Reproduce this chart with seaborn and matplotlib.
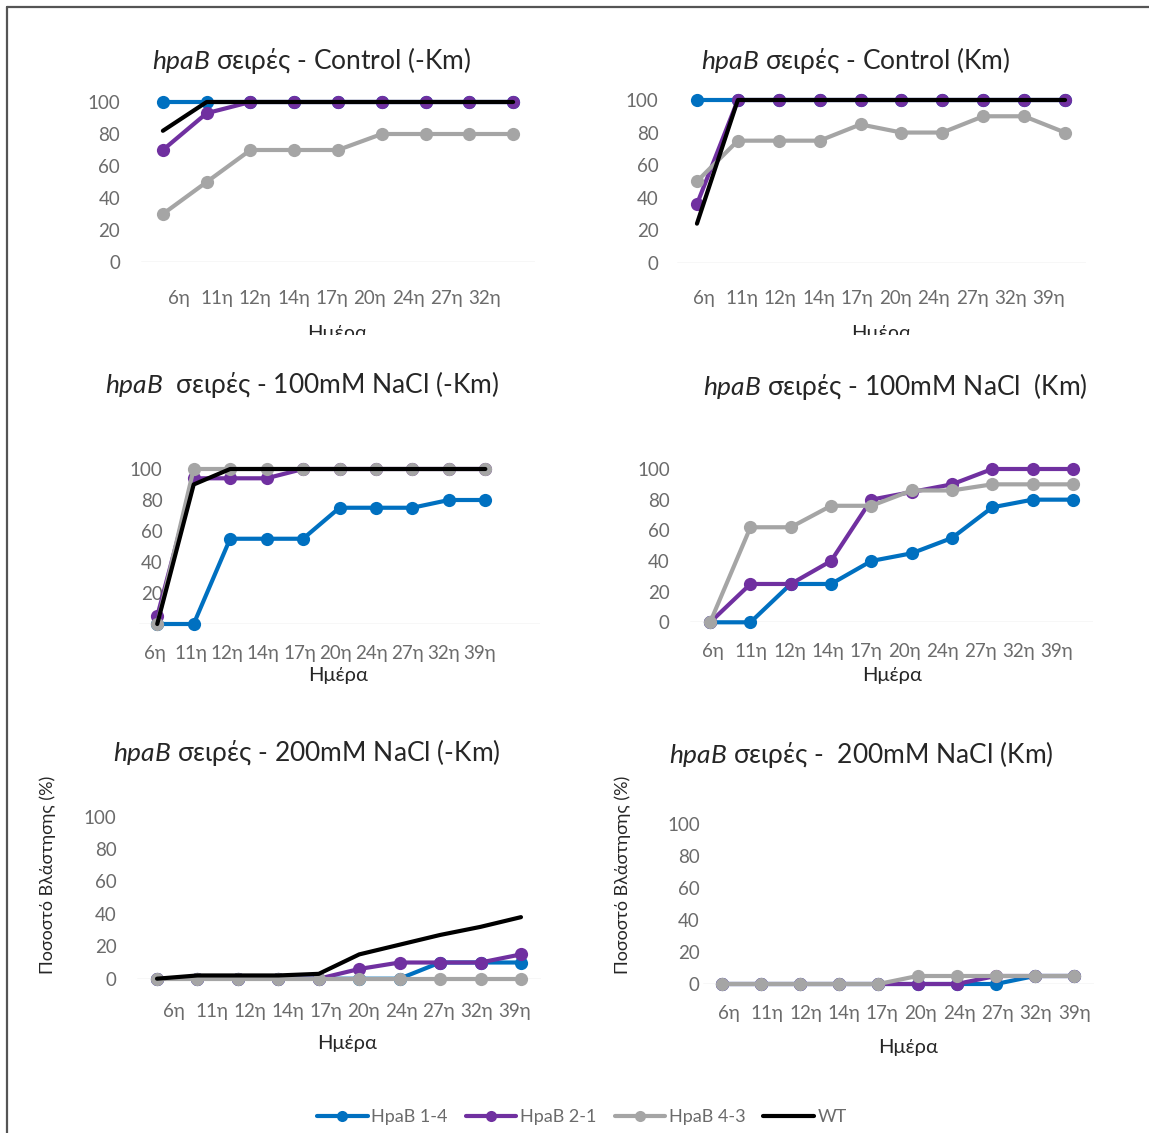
import numpy as np
import pandas as pd
import seaborn as sns
import matplotlib
matplotlib.use("Agg")
import matplotlib.pyplot as plt
from matplotlib.lines import Line2D
from matplotlib.transforms import Bbox, TransformedBbox

# ---------------- data ----------------
days9 = ["6η", "11η", "12η", "14η", "17η", "20η", "24η", "27η", "32η"]
days10 = ["6η", "11η", "12η", "14η", "17η", "20η", "24η", "27η", "32η", "39η"]
series_names = ["HpaB 1-4", "HpaB 2-1", "HpaB 4-3", "WT"]

ctrl_nokm_14 = [100, 100, 100, 100, 100, 100, 100, 100, 100]
ctrl_nokm_21 = [70, 93, 100, 100, 100, 100, 100, 100, 100]
ctrl_nokm_43 = [30, 50, 70, 70, 70, 80, 80, 80, 80]
ctrl_nokm_wt = [82, 100, 100, 100, 100, 100, 100, 100, 100]

ctrl_km_14 = [100, 100, 100, 100, 100, 100, 100, 100, 100, 100]
ctrl_km_21 = [36, 100, 100, 100, 100, 100, 100, 100, 100, 100]
ctrl_km_43 = [50, 75, 75, 75, 85, 80, 80, 90, 90, 80]
ctrl_km_wt = [24, 100, 100, 100, 100, 100, 100, 100, 100, 100]

nacl100_nokm_14 = [0, 0, 55, 55, 55, 75, 75, 75, 80, 80]
nacl100_nokm_21 = [5, 94, 94, 94, 100, 100, 100, 100, 100, 100]
nacl100_nokm_43 = [0, 100, 100, 100, 100, 100, 100, 100, 100, 100]
nacl100_nokm_wt = [0, 90, 100, 100, 100, 100, 100, 100, 100, 100]

nacl100_km_14 = [0, 0, 25, 25, 40, 45, 55, 75, 80, 80]
nacl100_km_21 = [0, 25, 25, 40, 80, 85, 90, 100, 100, 100]
nacl100_km_43 = [0, 62, 62, 76, 76, 86, 86, 90, 90, 90]
nacl100_km_wt = [np.nan] * 10

nacl200_nokm_14 = [0, 0, 0, 0, 0, 0, 0, 10, 10, 10]
nacl200_nokm_21 = [0, 0, 0, 0, 0, 6, 10, 10, 10, 15]
nacl200_nokm_43 = [0, 0, 0, 0, 0, 0, 0, 0, 0, 0]
nacl200_nokm_wt = [0, 2, 2, 2, 3, 15, 21, 27, 32, 38]

nacl200_km_14 = [0, 0, 0, 0, 0, 0, 0, 0, 5, 5]
nacl200_km_21 = [0, 0, 0, 0, 0, 0, 0, 5, 5, 5]
nacl200_km_43 = [0, 0, 0, 0, 0, 5, 5, 5, 5, 5]
nacl200_km_wt = [np.nan] * 10

titles = [
    r"$\it{hpaB}$ σειρές - Control (-Km)",
    r"$\it{hpaB}$ σειρές - Control (Km)",
    r"$\it{hpaB}$  σειρές - 100mM NaCl (-Km)",
    r"$\it{hpaB}$ σειρές - 100mM NaCl  (Km)",
    r"$\it{hpaB}$ σειρές - 200mM NaCl (-Km)",
    r"$\it{hpaB}$ σειρές -  200mM NaCl (Km)",
]
xlabel_text = "Ημέρα"
ylabel_text = "Ποσοστό Βλάστησης (%)"

# ---------------- style ----------------
colors = {"HpaB 1-4": "#0070C0", "HpaB 2-1": "#7030A0",
          "HpaB 4-3": "#A5A5A5", "WT": "#000000"}
sns.set_theme(style="white")
plt.rcParams["font.family"] = ["Lato", "Open Sans", "DejaVu Sans"]
plt.rcParams["mathtext.fontset"] = "custom"
plt.rcParams["mathtext.it"] = "Lato:italic"
plt.rcParams["mathtext.rm"] = "Lato"

W, H = 1149, 1133
fig = plt.figure(figsize=(W / 100, H / 100), dpi=100)
fig.patch.set_facecolor("white")

tick_col = "#6b6b6b"
dark = "#262626"
TICK_FS = 13.5
TITLE_FS = 19

# panel layout in pixels: x0, x1, y_top(100), y_bottom(0)
panels = [
    dict(days=days9, data=[ctrl_nokm_14, ctrl_nokm_21, ctrl_nokm_43, ctrl_nokm_wt],
         box=(141, 535, 102, 262), toff=0.36, tstep=0.874, xpad=20, ypad=15,
         title=(312, 60), xl=(337, 334), yl=None, clip=335),
    dict(days=days10, data=[ctrl_km_14, ctrl_km_21, ctrl_km_43, ctrl_km_wt],
         box=(676.5, 1085.5, 100, 262.7), toff=0.16, tstep=0.938, xpad=19.5, ypad=13,
         title=(856, 60), xl=(881, 334), yl=None, clip=335),
    dict(days=days10, data=[nacl100_nokm_14, nacl100_nokm_21, nacl100_nokm_43, nacl100_nokm_wt],
         box=(139, 540, 469, 624), toff=-0.06, tstep=0.99, xpad=15, ypad=-17,
         title=(302, 385), xl=(338, 676), yl=None, clip=None, xmax=10.5),
    dict(days=days10, data=[nacl100_km_14, nacl100_km_21, nacl100_km_43, nacl100_km_wt],
         box=(690, 1093, 469, 622.3), toff=0.07, tstep=0.948, xpad=15, ypad=14.5,
         title=(895, 386), xl=(892, 675), yl=None, clip=None),
    dict(days=days10, data=[nacl200_nokm_14, nacl200_nokm_21, nacl200_nokm_43, nacl200_nokm_wt],
         box=(136.8, 541.2, 816.7, 978.7), toff=0.43, tstep=0.934, xpad=17.5, ypad=14.5,
         title=(307, 753), xl=(347, 1043), yl=(48, 875), clip=None),
    dict(days=days10, data=[nacl200_km_14, nacl200_km_21, nacl200_km_43, nacl200_km_wt],
         box=(702.5, 1093.5, 824, 984), toff=0.17, tstep=0.982, xpad=15, ypad=2,
         title=(861, 754), xl=(908, 1047), yl=(623, 875), clip=None),
]

for i, p in enumerate(panels):
    x0, x1, yt, yb = p["box"]
    ax = fig.add_axes([x0 / W, 1 - yb / H, (x1 - x0) / W, (yb - yt) / H])
    n = len(p["days"])
    pos = np.arange(n)
    for name, vals in zip(series_names, p["data"]):
        vals = np.asarray(vals, dtype=float)
        if np.all(np.isnan(vals)):
            continue
        df = pd.DataFrame({"x": pos, "y": vals})
        c = colors[name]
        if name == "WT":
            sns.lineplot(data=df, x="x", y="y", ax=ax, color=c, linewidth=3.0,
                         estimator=None, sort=False, errorbar=None, clip_on=False)
        else:
            sns.lineplot(data=df, x="x", y="y", ax=ax, color=c, linewidth=3.0,
                         marker="o", markersize=9.5, markeredgecolor=c,
                         markeredgewidth=0, estimator=None, sort=False,
                         errorbar=None, clip_on=False)
    ax.set_xlim(-0.5, p.get("xmax", n - 0.5))
    ax.set_ylim(0, 100)
    ax.axhline(0, color="#D9D9D9", linewidth=1.0, zorder=0)
    for s in ax.spines.values():
        s.set_visible(False)
    ax.set_yticks([0, 20, 40, 60, 80, 100])
    ax.set_xticks([p["toff"] + p["tstep"] * k for k in range(n)])
    ax.set_xticklabels(p["days"])
    ax.tick_params(axis="x", length=0, pad=p["xpad"], labelsize=TICK_FS, labelcolor=tick_col)
    ax.tick_params(axis="y", length=0, pad=p["ypad"], labelsize=TICK_FS, labelcolor=tick_col)
    for lab in ax.get_yticklabels():
        lab.set_horizontalalignment("right")
    ax.set_ylabel("")
    # title
    tx, ty = p["title"]
    ax.text((tx - x0) / (x1 - x0), (yb - ty) / (yb - yt), titles[i],
            transform=ax.transAxes, ha="center", va="center", fontsize=TITLE_FS, color=dark)
    # x label
    lx, ly = p["xl"]
    xlab = ax.set_xlabel(xlabel_text, fontsize=14.5, color=dark)
    ax.xaxis.set_label_coords((lx - x0) / (x1 - x0), (yb - ly) / (yb - yt))
    xlab.set_verticalalignment("center")
    if p["clip"] is not None:
        cb = TransformedBbox(Bbox([[0, 1 - p["clip"] / H], [1, 1]]), fig.transFigure)
        xlab.set_clip_box(cb)
        xlab.set_clip_on(True)
    if p["yl"] is not None:
        yx, yy = p["yl"]
        ax.set_ylabel(ylabel_text, fontsize=13, color=dark)
        ax.yaxis.set_label_coords((yx - x0) / (x1 - x0), (yb - yy) / (yb - yt))
        ax.yaxis.label.set_verticalalignment("center")

# legend
handles = []
for name in series_names:
    c = colors[name]
    if name == "WT":
        handles.append(Line2D([0], [0], color=c, linewidth=3.0))
    else:
        handles.append(Line2D([0], [0], color=c, linewidth=3.0, marker="o",
                              markersize=8, markeredgewidth=0))
leg = fig.legend(handles, series_names, loc="center", bbox_to_anchor=(582 / W, 1 - 1117 / H),
                 ncol=4, frameon=False, fontsize=13, handlelength=2.8,
                 handletextpad=0.2, columnspacing=1.0)
for t in leg.get_texts():
    t.set_color(tick_col)

# outer frame (left and top edges)
fig.add_artist(Line2D([7 / W, 7 / W], [0, 1 - 7 / H], transform=fig.transFigure,
                      color="#555555", linewidth=1.6))
fig.add_artist(Line2D([7 / W, 1], [1 - 7 / H, 1 - 7 / H], transform=fig.transFigure,
                      color="#555555", linewidth=1.6))

fig.savefig("out.png", dpi=100, facecolor="white")
